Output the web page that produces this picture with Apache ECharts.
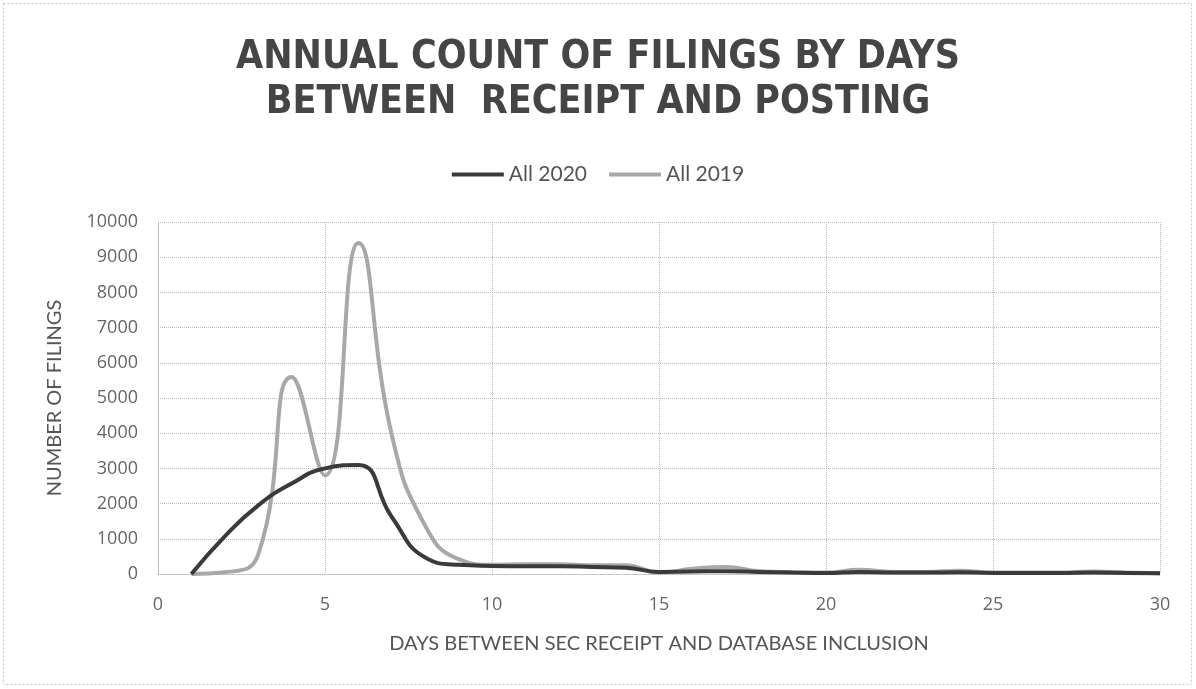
<!DOCTYPE html>
<html><head><meta charset="utf-8">
<script src="https://cdn.jsdelivr.net/npm/echarts@6/dist/echarts.min.js"></script>
<style>html,body{margin:0;padding:0;background:#fff}#c{width:1196px;height:689px}</style>
</head><body><div id="c"></div>
<script>
var days = [1,2,3,4,5,6,7,8,9,10,11,12,13,14,15,16,17,18,19,20,21,22,23,24,25,26,27,28,29,30];
var all2020 = [0,1070,1950,2570,3000,3100,1620,470,260,230,220,220,200,180,60,70,80,60,40,30,60,40,40,50,30,30,30,40,30,20];
var all2019 = [0,50,550,5600,2800,9400,3950,1370,420,260,280,280,250,250,40,150,200,80,50,40,120,60,60,90,40,40,40,70,40,20];
var titleLines = ['ANNUAL COUNT OF FILINGS BY DAYS', 'BETWEEN  RECEIPT AND POSTING'];

function pairs(xs, ys){ return xs.map(function(x,i){ return [x, ys[i]]; }); }

var chart = echarts.init(document.getElementById('c'));
var font = 'Open Sans';
chart.setOption({
  animation: false,
  title: {
    text: titleLines.join('\n'),
    left: 'center', top: 30,
    textStyle: { fontFamily: 'DejaVu Sans Condensed', fontWeight: 'bold', fontSize: 39, color: '#454545', lineHeight: 45 }
  },
  legend: {
    top: 159, left: 'center',
    icon: 'rect', itemWidth: 52, itemHeight: 4, itemGap: 22,
    textStyle: { fontFamily: 'Lato', fontSize: 21, color: '#555' },
    data: ['All 2020', 'All 2019']
  },
  graphic: [{
    type: 'rect', shape: { x: 3.5, y: 3.5, width: 1188, height: 681 },
    style: { fill: 'none', stroke: '#c8c8c8', lineWidth: 1, lineDash: [2, 2] }, silent: true
  }],
  grid: { left: 158, right: 36, top: 222, bottom: 115 },
  xAxis: {
    type: 'value', min: 0, max: 30, interval: 5,
    name: 'DAYS BETWEEN SEC RECEIPT AND DATABASE INCLUSION',
    nameLocation: 'middle', nameGap: 60,
    nameTextStyle: { fontFamily: 'Lato', fontSize: 20, color: '#555' },
    axisLine: { show: true, lineStyle: { color: '#bbb', type: 'dotted' } },
    axisTick: { show: false },
    axisLabel: { fontFamily: font, fontSize: 18, color: '#666', margin: 22 },
    splitLine: { show: true, lineStyle: { color: '#bbb', type: 'dotted' } }
  },
  yAxis: {
    type: 'value', min: 0, max: 10000, interval: 1000,
    name: 'NUMBER OF FILINGS', nameLocation: 'middle', nameGap: 93,
    nameTextStyle: { fontFamily: 'Lato', fontSize: 20, color: '#555' },
    axisLine: { show: true, lineStyle: { color: '#bbb', type: 'dotted' } },
    axisTick: { show: false },
    axisLabel: { fontFamily: font, fontSize: 18, color: '#666', margin: 20, formatter: function(v){ return String(v); } },
    splitLine: { show: true, lineStyle: { color: '#bbb', type: 'dotted' } }
  },
  series: [
    { name: 'All 2020', type: 'line', data: pairs(days, all2020), smooth: 0.5, showSymbol: false,
      itemStyle: { color: '#3a3a3a' }, lineStyle: { color: '#3a3a3a', width: 4 }, z: 3 },
    { name: 'All 2019', type: 'line', data: pairs(days, all2019), smooth: 0.5, showSymbol: false,
      itemStyle: { color: '#a8a8a8' }, lineStyle: { color: '#a8a8a8', width: 4 }, z: 2 }
  ]
});
</script></body></html>
